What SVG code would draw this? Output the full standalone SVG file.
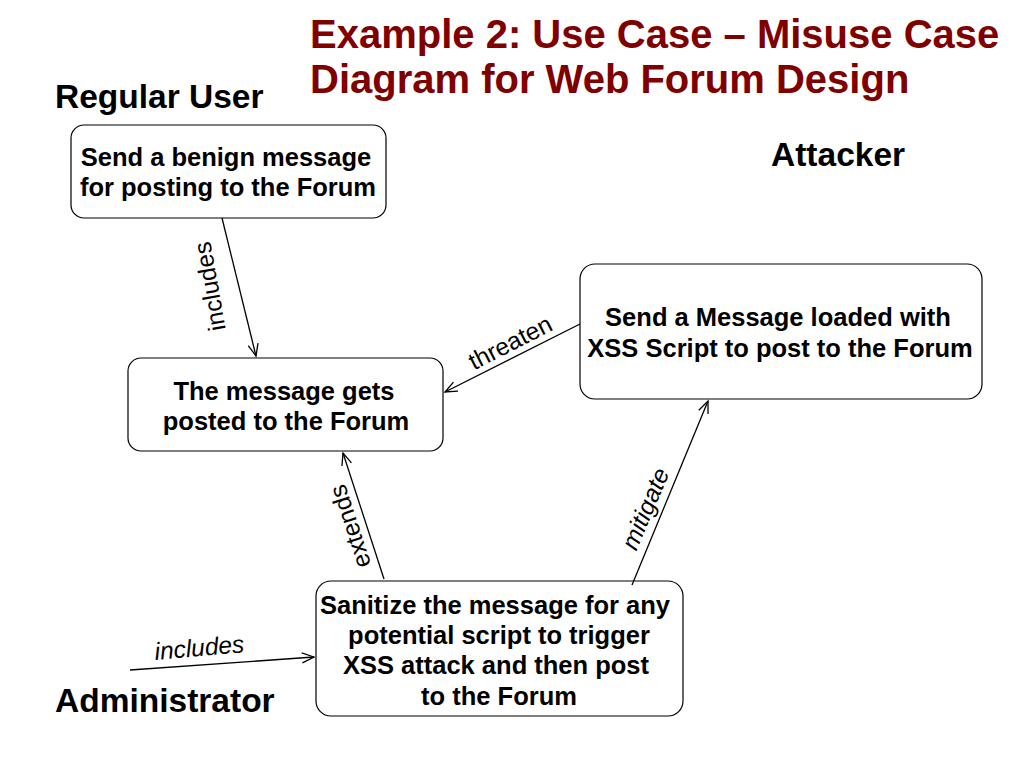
<svg xmlns="http://www.w3.org/2000/svg" width="1024" height="768" viewBox="0 0 1024 768">
<style>
.title{font-family:"Liberation Sans",Arial,sans-serif;font-weight:bold;font-size:40px;fill:#800000}
.actor{font-family:"Liberation Sans",Arial,sans-serif;font-weight:bold;font-size:33.5px;fill:#000}
.box{fill:#fff;stroke:#000;stroke-width:1.2}
.bt{font-family:"Liberation Sans",Arial,sans-serif;font-weight:bold;font-size:25.5px;fill:#000;text-anchor:middle}
.lbl{font-family:"Liberation Sans",Arial,sans-serif;font-size:24.5px;fill:#000;text-anchor:middle}
.it{font-style:italic}
.edge{stroke:#000;stroke-width:1.3;fill:none;marker-end:url(#arr)}
</style>
<defs>
<marker id="arr" markerUnits="userSpaceOnUse" markerWidth="16" markerHeight="14" refX="13" refY="6" orient="auto">
<path d="M1,1 L13,6 L1,11" fill="none" stroke="#000" stroke-width="1.3"/>
</marker>
</defs>
<g id="title">
<text class="title" x="310" y="48">Example 2: Use Case – Misuse Case</text>
<text class="title" x="310" y="93">Diagram for Web Forum Design</text>
</g>
<g id="actor-regular-user"><text class="actor" x="55" y="108">Regular User</text></g>
<g id="actor-attacker"><text class="actor" x="771" y="166">Attacker</text></g>
<g id="actor-administrator"><text class="actor" x="55" y="712">Administrator</text></g>
<g id="uc-send-benign">
<rect class="box" x="71" y="125" width="315" height="93" rx="13"/>
<text class="bt" x="226" y="166">Send a benign message</text>
<text class="bt" x="228" y="196">for posting to the Forum</text>
</g>
<g id="uc-posted">
<rect class="box" x="128" y="358" width="315" height="93" rx="13"/>
<text class="bt" x="284" y="400">The message gets</text>
<text class="bt" x="286" y="430">posted to the Forum</text>
</g>
<g id="mc-send-xss">
<rect class="box" x="580" y="264" width="402" height="135" rx="15"/>
<text class="bt" x="778" y="326">Send a Message loaded with</text>
<text class="bt" x="780" y="357">XSS Script to post to the Forum</text>
</g>
<g id="uc-sanitize">
<rect class="box" x="316" y="581" width="367" height="135" rx="15"/>
<text class="bt" x="495" y="614">Sanitize the message for any</text>
<text class="bt" x="499" y="644">potential script to trigger</text>
<text class="bt" x="496" y="674">XSS attack and then post</text>
<text class="bt" x="499" y="705">to the Forum</text>
</g>
<g id="connectors">
<line class="edge" x1="222" y1="218" x2="256" y2="356"/>
<text class="lbl" transform="translate(218,285) rotate(-100)">includes</text>
<line class="edge" x1="580" y1="324" x2="445" y2="392"/>
<text class="lbl" transform="translate(514,350) rotate(-27)">threaten</text>
<line class="edge" x1="384" y1="579" x2="343" y2="453"/>
<text class="lbl" transform="translate(358,524) rotate(-108)">extends</text>
<line class="edge" x1="632" y1="585" x2="708" y2="401"/>
<text class="lbl it" transform="translate(653,512) rotate(-67)">mitigate</text>
<line class="edge" x1="130" y1="670" x2="314" y2="657"/>
<text class="lbl it" transform="translate(200,656) rotate(-5)">includes</text>
</g>
</svg>
